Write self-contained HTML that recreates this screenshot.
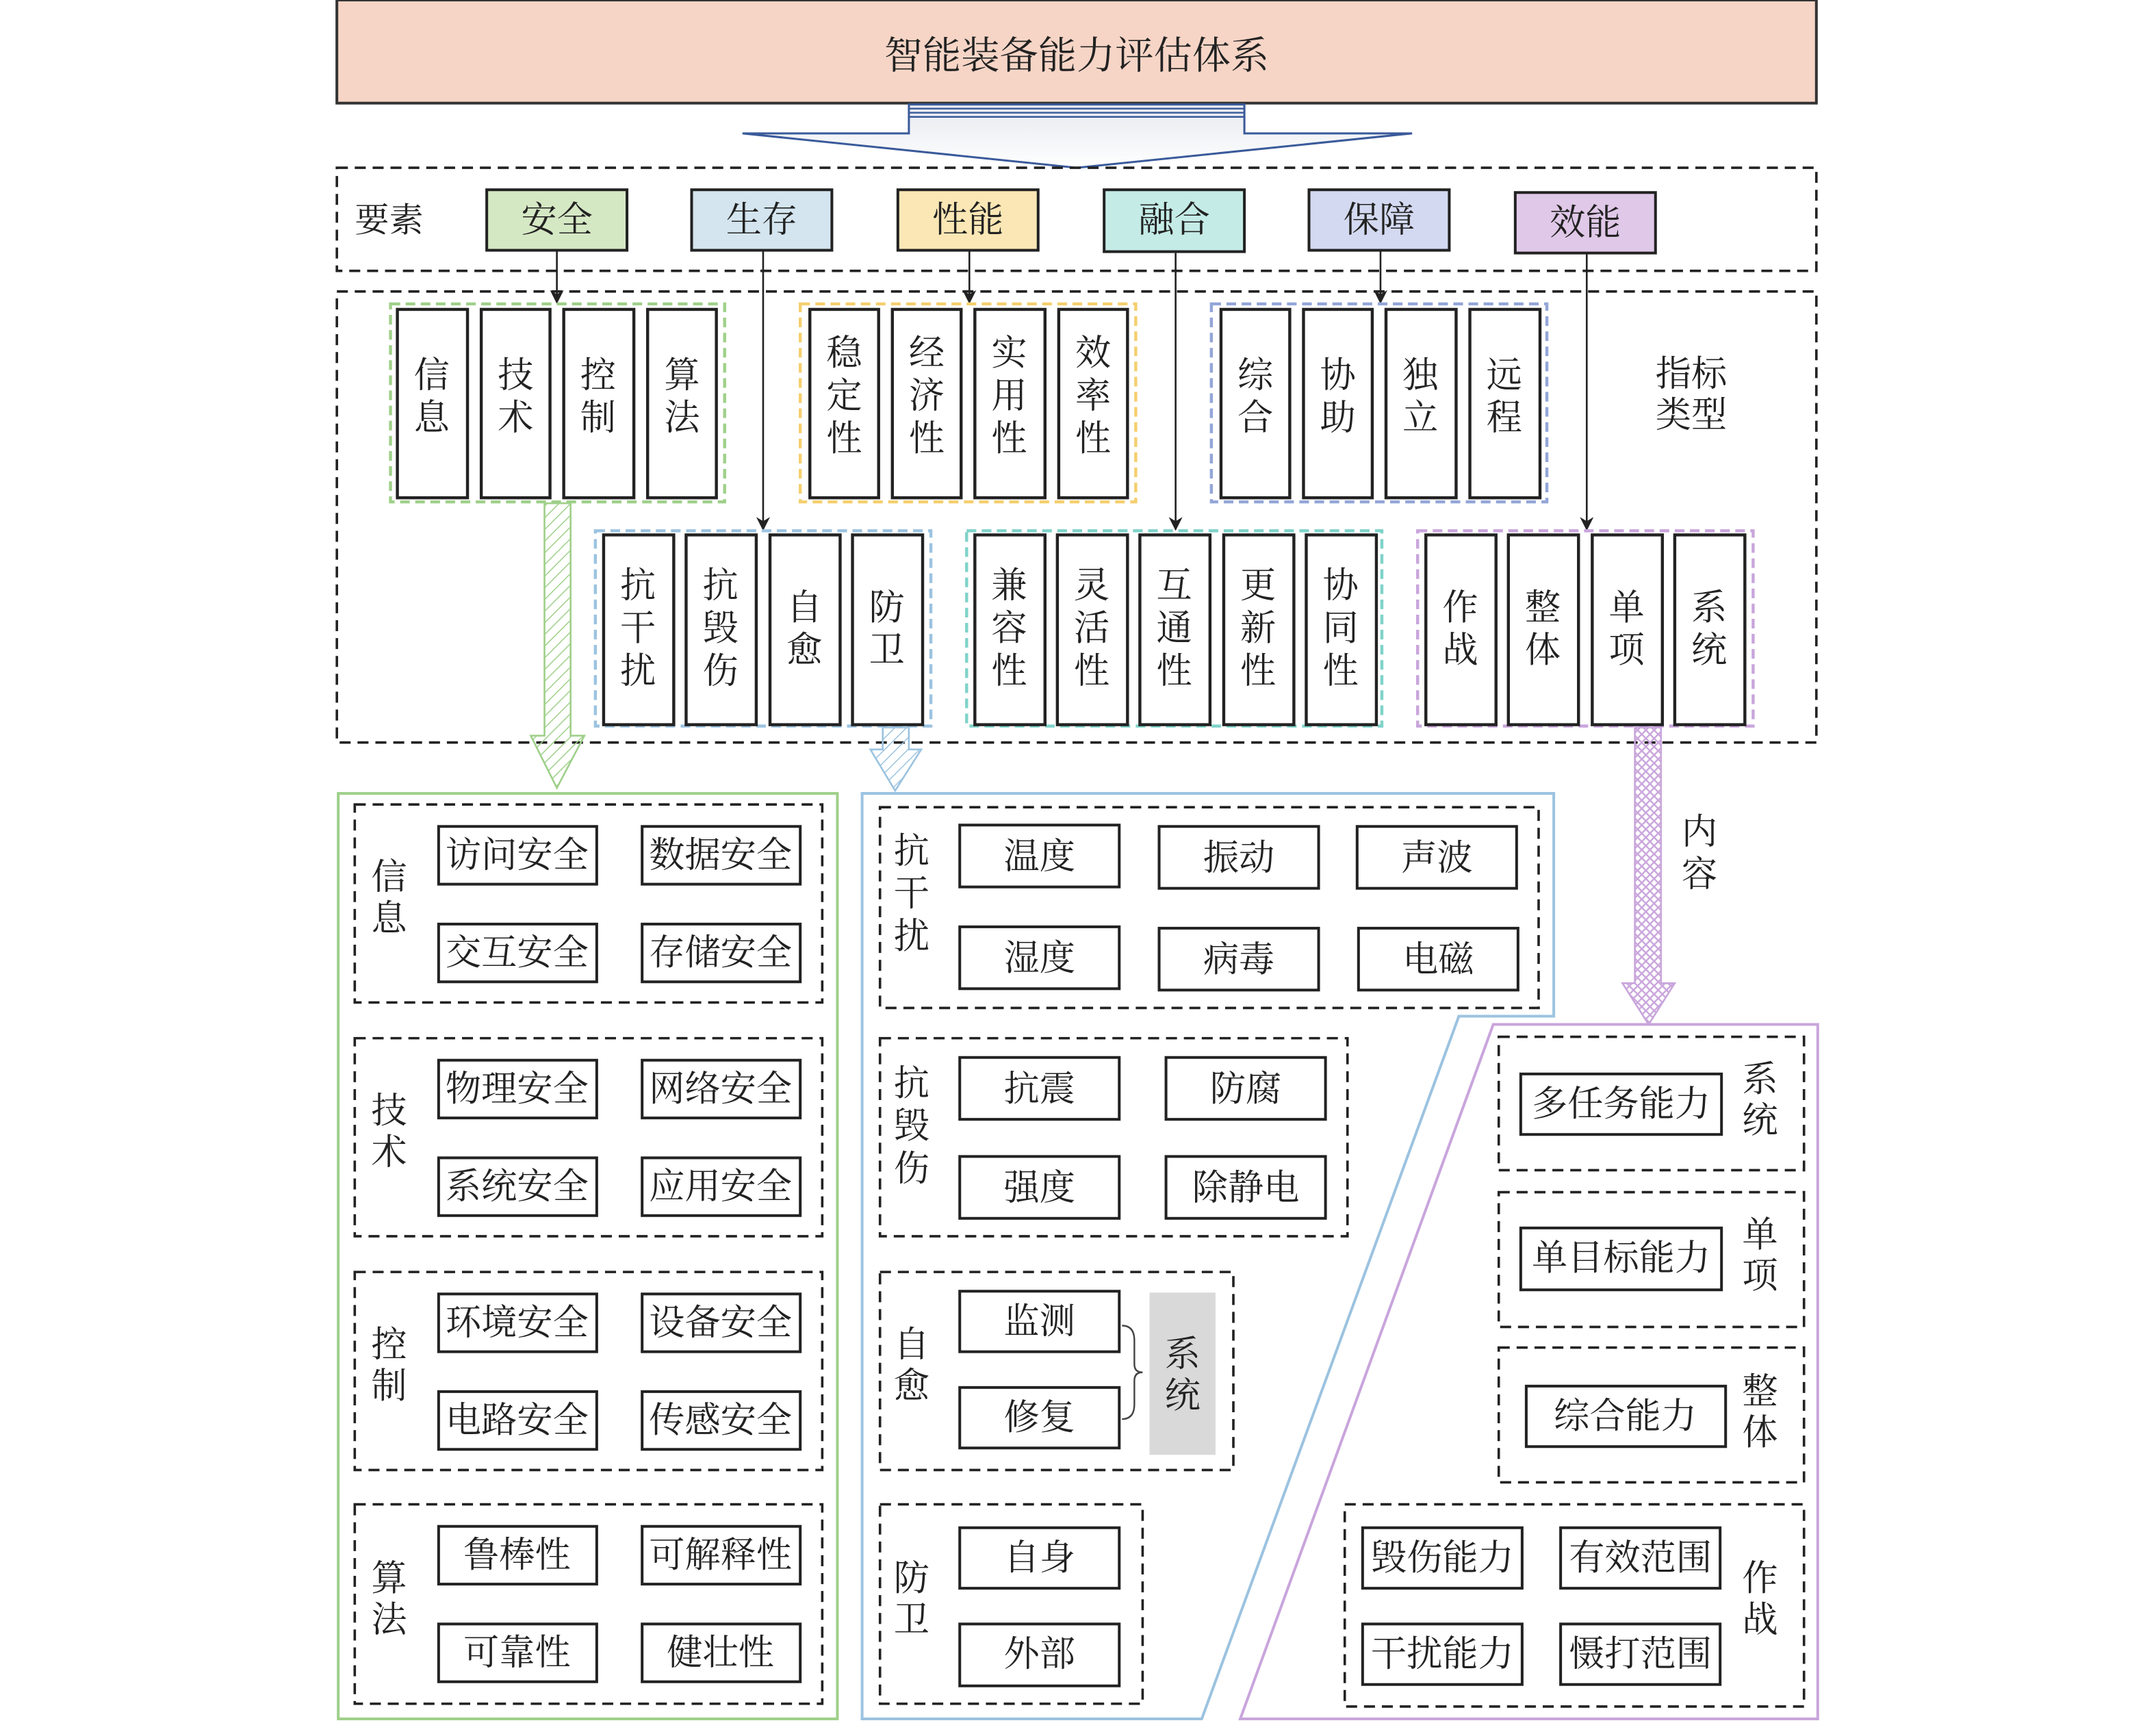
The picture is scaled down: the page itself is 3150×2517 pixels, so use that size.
<!DOCTYPE html>
<html><head><meta charset="utf-8">
<style>
html,body{margin:0;padding:0;background:#fff;}
svg{display:block;}
text{font-family:"Liberation Serif","Noto Serif CJK SC",serif;fill:#222;}
</style></head>
<body>
<svg width="3150" height="2517" viewBox="0 0 1568 1253" preserveAspectRatio="none" xmlns="http://www.w3.org/2000/svg">
<defs>
<pattern id="pg" width="6" height="6" patternUnits="userSpaceOnUse" patternTransform="rotate(45)"><line x1="0" y1="0" x2="0" y2="6" stroke="#9fd08a" stroke-width="1.5"/></pattern>
<pattern id="pb" width="6" height="6" patternUnits="userSpaceOnUse" patternTransform="rotate(45)"><line x1="0" y1="0" x2="0" y2="6" stroke="#9cc3e0" stroke-width="1.5"/></pattern>
<pattern id="pp" width="6" height="6" patternUnits="userSpaceOnUse"><path d="M0 0L6 6M6 0L0 6" stroke="#c9a5dc" stroke-width="1.2"/></pattern>
<marker id="ah" markerWidth="10" markerHeight="10" refX="9" refY="5" orient="auto" markerUnits="userSpaceOnUse"><path d="M0 0L10 5L0 10L3 5z" fill="#222"/></marker>
<linearGradient id="ag" x1="0" y1="0" x2="0" y2="1"><stop offset="0" stop-color="#e6e9ef"/><stop offset="1" stop-color="#fff"/></linearGradient>
</defs>

<rect x="245" y="0" width="1076" height="75" fill="#f6d5c6" stroke="#333" stroke-width="2"/>
<text x="783" y="41" font-size="28" text-anchor="middle" dominant-baseline="central">智能装备能力评估体系</text>

<path d="M661 76H905V97H1027L783 122L540 97H661Z" fill="url(#ag)" stroke="#3a5a9a" stroke-width="1.5"/>
<g stroke="#3a5a9a" stroke-width="1.2"><line x1="661" y1="79" x2="905" y2="79"/><line x1="661" y1="82" x2="905" y2="82"/><line x1="661" y1="85" x2="905" y2="85"/></g>

<g fill="none" stroke="#222" stroke-width="1.8" stroke-dasharray="8,5">
<rect x="245" y="122" width="1076" height="75"/>
<rect x="245" y="212" width="1076" height="328"/>
</g>
<text x="283" y="160" font-size="25" text-anchor="middle" dominant-baseline="central">要素</text>

<g stroke="#222" stroke-width="2" font-size="26">
<rect x="354" y="138" width="102" height="44" fill="#d5e8c4"/>
<rect x="503" y="138" width="102" height="44" fill="#d4e5ef"/>
<rect x="653" y="138" width="102" height="44" fill="#fbe7b5"/>
<rect x="803" y="138" width="102" height="45" fill="#c4ebe6"/>
<rect x="952" y="138" width="102" height="44" fill="#d3d9f0"/>
<rect x="1102" y="140" width="102" height="44" fill="#e0c8e8"/>
</g>
<g font-size="26" text-anchor="middle" dominant-baseline="central">
<text x="405" y="160">安全</text><text x="554" y="160">生存</text><text x="704" y="160">性能</text>
<text x="854" y="160">融合</text><text x="1003" y="160">保障</text><text x="1153" y="162">效能</text>
</g>

<g stroke="#222" stroke-width="1.3" marker-end="url(#ah)">
<line x1="405" y1="182" x2="405" y2="220"/>
<line x1="555" y1="182" x2="555" y2="385"/>
<line x1="705" y1="182" x2="705" y2="220"/>
<line x1="855" y1="184" x2="855" y2="385"/>
<line x1="1004" y1="182" x2="1004" y2="220"/>
<line x1="1154" y1="184" x2="1154" y2="385"/>
</g>

<g fill="none" stroke-width="2.2" stroke-dasharray="7,4">
<rect x="284" y="221" width="243" height="144" stroke="#9fd08a"/>
<rect x="582" y="221" width="244" height="144" stroke="#f5cf6e"/>
<rect x="881" y="221" width="244" height="144" stroke="#93a6d8"/>
<rect x="433" y="386" width="244" height="142" stroke="#9cc3e0"/>
<rect x="703" y="386" width="302" height="142" stroke="#7fd3c9"/>
<rect x="1031" y="386" width="244" height="142" stroke="#c9a5dc"/>
</g>

<g fill="#fff" stroke="#222" stroke-width="2.2">
<rect x="289" y="225" width="51" height="137"/><rect x="350" y="225" width="50" height="137"/><rect x="410" y="225" width="51" height="137"/><rect x="471" y="225" width="50" height="137"/>
<rect x="589" y="225" width="50" height="137"/><rect x="649" y="225" width="50" height="137"/><rect x="709" y="225" width="51" height="137"/><rect x="770" y="225" width="50" height="137"/>
<rect x="888" y="225" width="50" height="137"/><rect x="948" y="225" width="50" height="137"/><rect x="1008" y="225" width="51" height="137"/><rect x="1069" y="225" width="51" height="137"/>
<rect x="439" y="389" width="51" height="138"/><rect x="499" y="389" width="51" height="138"/><rect x="560" y="389" width="51" height="138"/><rect x="620" y="389" width="51" height="138"/>
<rect x="709" y="389" width="51" height="138"/><rect x="769" y="389" width="51" height="138"/><rect x="829" y="389" width="51" height="138"/><rect x="890" y="389" width="51" height="138"/><rect x="950" y="389" width="51" height="138"/>
<rect x="1037" y="389" width="51" height="138"/><rect x="1097" y="389" width="51" height="138"/><rect x="1158" y="389" width="51" height="138"/><rect x="1218" y="389" width="51" height="138"/>
</g>

<g font-size="26" text-anchor="middle" dominant-baseline="central">
<text x="314" y="273">信</text><text x="314" y="304">息</text>
<text x="375" y="273">技</text><text x="375" y="304">术</text>
<text x="435" y="273">控</text><text x="435" y="304">制</text>
<text x="496" y="273">算</text><text x="496" y="304">法</text>
<text x="614" y="257">稳</text><text x="614" y="288">定</text><text x="614" y="319">性</text>
<text x="674" y="257">经</text><text x="674" y="288">济</text><text x="674" y="319">性</text>
<text x="734" y="257">实</text><text x="734" y="288">用</text><text x="734" y="319">性</text>
<text x="795" y="257">效</text><text x="795" y="288">率</text><text x="795" y="319">性</text>
<text x="913" y="273">综</text><text x="913" y="304">合</text>
<text x="973" y="273">协</text><text x="973" y="304">助</text>
<text x="1033" y="273">独</text><text x="1033" y="304">立</text>
<text x="1094" y="273">远</text><text x="1094" y="304">程</text>
<text x="1230" y="272">指标</text><text x="1230" y="302">类型</text>
<text x="464" y="426">抗</text><text x="464" y="457">干</text><text x="464" y="488">扰</text>
<text x="524" y="426">抗</text><text x="524" y="457">毁</text><text x="524" y="488">伤</text>
<text x="585" y="442">自</text><text x="585" y="473">愈</text>
<text x="645" y="442">防</text><text x="645" y="473">卫</text>
<text x="734" y="426">兼</text><text x="734" y="457">容</text><text x="734" y="488">性</text>
<text x="794" y="426">灵</text><text x="794" y="457">活</text><text x="794" y="488">性</text>
<text x="854" y="426">互</text><text x="854" y="457">通</text><text x="854" y="488">性</text>
<text x="915" y="426">更</text><text x="915" y="457">新</text><text x="915" y="488">性</text>
<text x="975" y="426">协</text><text x="975" y="457">同</text><text x="975" y="488">性</text>
<text x="1062" y="442">作</text><text x="1062" y="473">战</text>
<text x="1122" y="442">整</text><text x="1122" y="473">体</text>
<text x="1183" y="442">单</text><text x="1183" y="473">项</text>
<text x="1243" y="442">系</text><text x="1243" y="473">统</text>
<text x="1236" y="605">内</text><text x="1236" y="636">容</text>
</g>

<path d="M396 366H415V535H425L405 573L386 535H396Z" fill="url(#pg)" stroke="#9fd08a" stroke-width="1.3"/>
<path d="M642 529H661V545H670L651 575L633 545H642Z" fill="url(#pb)" stroke="#9cc3e0" stroke-width="1.3"/>
<path d="M1189 529H1208V715H1218L1199 745L1180 715H1189Z" fill="url(#pp)" stroke="#c9a5dc" stroke-width="1.3"/>

<rect x="246" y="577" width="363" height="673" fill="none" stroke="#9fd08a" stroke-width="2"/>
<path d="M627 577H1130V739H1061L874 1250H627Z" fill="none" stroke="#9cc3e0" stroke-width="2"/>
<path d="M1086 745H1322V1250H902Z" fill="none" stroke="#c9a5dc" stroke-width="2"/>

<g fill="none" stroke="#222" stroke-width="1.8" stroke-dasharray="8,5">
<rect x="258" y="585" width="340" height="144"/><rect x="258" y="755" width="340" height="144"/>
<rect x="258" y="925" width="340" height="144"/><rect x="258" y="1094" width="340" height="145"/>
<rect x="640" y="587" width="479" height="146"/><rect x="640" y="755" width="340" height="144"/>
<rect x="640" y="925" width="257" height="144"/><rect x="640" y="1094" width="191" height="145"/>
<rect x="1090" y="754" width="222" height="97"/><rect x="1090" y="867" width="222" height="98"/>
<rect x="1090" y="980" width="222" height="98"/><rect x="978" y="1094" width="334" height="147"/>
</g>

<rect x="836" y="940" width="48" height="118" fill="#d9d9d9"/>
<path d="M816 964Q825 964 825 975V992Q825 998 831 998Q825 998 825 1004V1021Q825 1032 816 1032" fill="none" stroke="#444" stroke-width="1.2"/>

<g fill="#fff" stroke="#222" stroke-width="2">
<rect x="319" y="601" width="115" height="42"/><rect x="467" y="601" width="115" height="42"/>
<rect x="319" y="672" width="115" height="42"/><rect x="467" y="672" width="115" height="42"/>
<rect x="319" y="771" width="115" height="42"/><rect x="467" y="771" width="115" height="42"/>
<rect x="319" y="842" width="115" height="42"/><rect x="467" y="842" width="115" height="42"/>
<rect x="319" y="941" width="115" height="42"/><rect x="467" y="941" width="115" height="42"/>
<rect x="319" y="1012" width="115" height="42"/><rect x="467" y="1012" width="115" height="42"/>
<rect x="319" y="1110" width="115" height="42"/><rect x="467" y="1110" width="115" height="42"/>
<rect x="319" y="1181" width="115" height="42"/><rect x="467" y="1181" width="115" height="42"/>
<rect x="698" y="600" width="116" height="45"/><rect x="843" y="601" width="116" height="45"/><rect x="987" y="601" width="116" height="45"/>
<rect x="698" y="674" width="116" height="45"/><rect x="843" y="675" width="116" height="45"/><rect x="988" y="675" width="116" height="45"/>
<rect x="698" y="769" width="116" height="45"/><rect x="848" y="769" width="116" height="45"/>
<rect x="698" y="841" width="116" height="45"/><rect x="848" y="841" width="116" height="45"/>
<rect x="698" y="939" width="116" height="44"/><rect x="698" y="1009" width="116" height="44"/>
<rect x="698" y="1111" width="116" height="44"/><rect x="698" y="1181" width="116" height="45"/>
<rect x="1106" y="781" width="146" height="44"/>
<rect x="1106" y="893" width="146" height="45"/>
<rect x="1110" y="1008" width="145" height="44"/>
<rect x="991" y="1111" width="116" height="44"/><rect x="1135" y="1111" width="116" height="44"/>
<rect x="991" y="1181" width="116" height="44"/><rect x="1135" y="1181" width="116" height="44"/>
</g>

<g font-size="26" text-anchor="middle" dominant-baseline="central">
<text x="283" y="638">信</text><text x="283" y="668">息</text>
<text x="283" y="808">技</text><text x="283" y="838">术</text>
<text x="283" y="978">控</text><text x="283" y="1008">制</text>
<text x="283" y="1148">算</text><text x="283" y="1178">法</text>
<text x="376" y="622">访问安全</text><text x="524" y="622">数据安全</text>
<text x="376" y="693">交互安全</text><text x="524" y="693">存储安全</text>
<text x="376" y="792">物理安全</text><text x="524" y="792">网络安全</text>
<text x="376" y="863">系统安全</text><text x="524" y="863">应用安全</text>
<text x="376" y="962">环境安全</text><text x="524" y="962">设备安全</text>
<text x="376" y="1033">电路安全</text><text x="524" y="1033">传感安全</text>
<text x="376" y="1131">鲁棒性</text><text x="524" y="1131">可解释性</text>
<text x="376" y="1202">可靠性</text><text x="524" y="1202">健壮性</text>

<text x="663" y="619">抗</text><text x="663" y="650">干</text><text x="663" y="681">扰</text>
<text x="663" y="788">抗</text><text x="663" y="819">毁</text><text x="663" y="850">伤</text>
<text x="663" y="978">自</text><text x="663" y="1008">愈</text>
<text x="663" y="1148">防</text><text x="663" y="1178">卫</text>
<text x="756" y="623">温度</text><text x="901" y="624">振动</text><text x="1045" y="624">声波</text>
<text x="756" y="697">湿度</text><text x="901" y="698">病毒</text><text x="1046" y="698">电磁</text>
<text x="756" y="792">抗震</text><text x="906" y="792">防腐</text>
<text x="756" y="864">强度</text><text x="906" y="864">除静电</text>
<text x="756" y="961">监测</text><text x="756" y="1031">修复</text>
<text x="860" y="985">系</text><text x="860" y="1015">统</text>
<text x="756" y="1133">自身</text><text x="756" y="1203">外部</text>

<text x="1179" y="803">多任务能力</text><text x="1280" y="785">系</text><text x="1280" y="815">统</text>
<text x="1179" y="915">单目标能力</text><text x="1280" y="898">单</text><text x="1280" y="928">项</text>
<text x="1182" y="1030">综合能力</text><text x="1280" y="1012">整</text><text x="1280" y="1042">体</text>
<text x="1049" y="1133">毁伤能力</text><text x="1193" y="1133">有效范围</text>
<text x="1049" y="1203">干扰能力</text><text x="1193" y="1203">慑打范围</text>
<text x="1280" y="1148">作</text><text x="1280" y="1178">战</text>
</g>
</svg>
</body></html>
